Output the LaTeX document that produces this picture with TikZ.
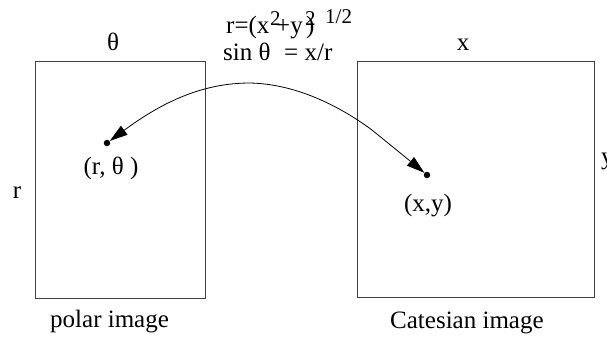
\documentclass[tikz,border=0pt]{standalone}
\usepackage{fontspec}
\setmainfont{Liberation Serif}
\usetikzlibrary{arrows.meta}
\tikzset{
  frame/.style={draw=black!75, line width=0.9pt},
  lbl/.style={inner sep=0pt, font=\fontsize{25}{30}\selectfont},
  suplbl/.style={inner sep=0pt, font=\fontsize{21}{25}\selectfont},
  pt/.style={circle, fill=black, inner sep=0pt, minimum size=6.5pt},
  link/.style={line width=0.8pt, {Triangle[length=18pt,width=11pt]}-{Triangle[length=18pt,width=11pt]}}
}
\begin{document}
\begin{tikzpicture}[x=1pt,y=-1pt]
\useasboundingbox (0,0) rectangle (607,338);
\clip (0,0) rectangle (607,338);
% boxes
\node[frame, minimum width=170pt, minimum height=237pt, inner sep=0pt, anchor=north west] (polar) at (35,61) {};
\node[frame, minimum width=237pt, minimum height=236pt, inner sep=0pt, anchor=north west] (cart) at (357,61) {};
% axis labels
\node[lbl, anchor=base] (theta) at (113,50) {θ};
\node[lbl, anchor=base] (rax) at (17,198) {r};
\node[lbl, anchor=base] (xax) at (463,50) {x};
\node[lbl, anchor=base west] (yax) at (601,164) {y};
% points
\node[pt] (pdot) at (107,143) {};
\node[pt] (cdot) at (427,175) {};
\node[lbl, anchor=base] (plabel) at (111,174) {(r, θ )};
\node[lbl, anchor=base] (clabel) at (428,211) {(x,y)};
% captions
\node[lbl, anchor=base west] (pcap) at (50,327) {polar image};
\node[lbl, anchor=base west] (ccap) at (390,328) {Catesian image};
% formula
\node[lbl, anchor=base west] (f1) at (226,33) {r=(x};
\node[lbl, anchor=base west] (f2) at (276,33) {+y};
\node[lbl, anchor=base west] (f3) at (306,33) {)};
\node[suplbl, anchor=base west] (s1) at (270,25) {2};
\node[suplbl, anchor=base west] (s2) at (305,25) {2};
\node[suplbl, anchor=base west] (s3) at (325,23) {1/2};
\node[lbl, anchor=base west] (g1) at (223,60) {sin θ};
\node[lbl, anchor=base west] (g2) at (284,60) {= x/r};
% connector
\coordinate (apex) at (250,83);
\coordinate (bend) at (372,130);
\draw[link] (pdot) .. controls (165,100) and (205,83) .. (apex)
  .. controls (300,84) and (345,110) .. (bend)
  .. controls (392,146) .. (cdot);
\end{tikzpicture}
\end{document}
